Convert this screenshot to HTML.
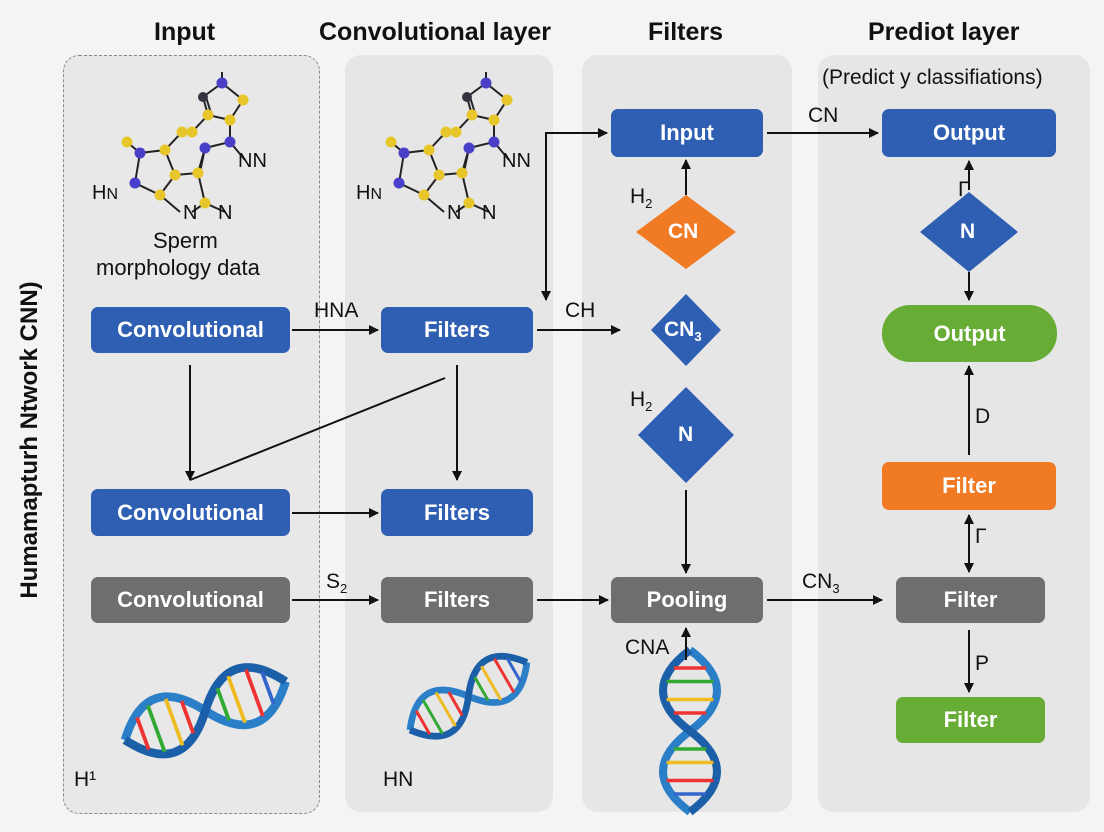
<!DOCTYPE html>
<html><head><meta charset="utf-8"><style>
body{margin:0;width:1104px;height:832px;background:#f4f4f4;font-family:"Liberation Sans",sans-serif;position:relative;overflow:hidden}
.col{position:absolute;background:#e6e6e6;border-radius:16px}
.b{position:absolute;color:#fff;font-weight:bold;font-size:22px;display:flex;align-items:center;justify-content:center;border-radius:7px}
.blue{background:#2f5fb3}.gray{background:#6e6e6e}.org{background:#f07b24}.grn{background:#67ad35}
.t{position:absolute;font-size:21px;color:#111;white-space:nowrap}
.h{position:absolute;font-size:25px;font-weight:bold;color:#111;white-space:nowrap}
</style></head><body>
<div class="col" style="left:63px;top:55px;width:255px;height:757px;border:1.5px dashed #888;background:#e8e8e8"></div>
<div class="col" style="left:345px;top:55px;width:208px;height:757px"></div>
<div class="col" style="left:582px;top:55px;width:210px;height:757px"></div>
<div class="col" style="left:818px;top:55px;width:272px;height:757px"></div>

<div class="h" style="left:154px;top:18px">Input</div>
<div class="h" style="left:319px;top:18px">Convolutional layer</div>
<div class="h" style="left:648px;top:18px">Filters</div>
<div class="h" style="left:868px;top:18px">Prediot layer</div>
<div class="t" style="left:822px;top:66px">(Predict y classifiations)</div>
<div class="h" style="left:30px;top:440px;transform:translate(-50%,-50%) rotate(-90deg);font-size:24px">Humamapturh Ntwork CNN)</div>

<svg width="1104" height="832" style="position:absolute;left:0;top:0">
<defs>
<marker id="a" markerWidth="10" markerHeight="10" refX="9" refY="5" orient="auto" markerUnits="userSpaceOnUse"><path d="M0,0L10,5L0,10z" fill="#111"/></marker>
<g id="mol" stroke="#222" stroke-width="2">
<path d="M222,72L222,83L203,97 M222,83L243,100L230,120L208,115L203,97 M211,113L206,97 M230,120L230,142L205,148 M208,115L192,132L182,132L165,150L140,153L127,142 M140,153L135,183L160,195L175,175L165,150 M175,175L198,173L205,148 M198,173L205,203L225,212 M205,203L192,212 M160,195L180,212 M230,142L245,160 M205,148L200,172" fill="none"/>
<g stroke="none">
<circle cx="222" cy="83" r="5.5" fill="#4a3fc8"/><circle cx="203" cy="97" r="5" fill="#334"/><circle cx="243" cy="100" r="5.5" fill="#e6c62b"/><circle cx="230" cy="120" r="5.5" fill="#e6c62b"/><circle cx="208" cy="115" r="5.5" fill="#e6c62b"/><circle cx="192" cy="132" r="5.5" fill="#e6c62b"/><circle cx="182" cy="132" r="5.5" fill="#e6c62b"/><circle cx="127" cy="142" r="5.5" fill="#e6c62b"/><circle cx="140" cy="153" r="5.5" fill="#4a3fc8"/><circle cx="165" cy="150" r="5.5" fill="#e6c62b"/><circle cx="205" cy="148" r="5.5" fill="#4a3fc8"/><circle cx="230" cy="142" r="5.5" fill="#4a3fc8"/><circle cx="175" cy="175" r="5.5" fill="#e6c62b"/><circle cx="198" cy="173" r="5.5" fill="#e6c62b"/><circle cx="135" cy="183" r="5.5" fill="#4a3fc8"/><circle cx="160" cy="195" r="5.5" fill="#e6c62b"/><circle cx="205" cy="203" r="5.5" fill="#e6c62b"/></g></g>
<g id="dna"><path d="M0,0 C30,-40 60,-40 90,0 S150,40 180,0" stroke="#2a7fc8" stroke-width="9" fill="none"/><path d="M0,0 C30,40 60,40 90,0 S150,-40 180,0" stroke="#1b5fa8" stroke-width="9" fill="none"/>
<g stroke-width="4"><line x1="20" y1="-18" x2="20" y2="18" stroke="#e33"/><line x1="35" y1="-26" x2="35" y2="26" stroke="#3a3"/><line x1="55" y1="-26" x2="55" y2="26" stroke="#eb2"/><line x1="70" y1="-18" x2="70" y2="18" stroke="#e33"/><line x1="110" y1="-18" x2="110" y2="18" stroke="#3a3"/><line x1="125" y1="-26" x2="125" y2="26" stroke="#eb2"/><line x1="145" y1="-26" x2="145" y2="26" stroke="#e33"/><line x1="160" y1="-18" x2="160" y2="18" stroke="#36c"/></g></g>
</defs>
<use href="#mol"/>
<use href="#mol" transform="translate(264,0)"/>
<use href="#dna" transform="translate(125,740) rotate(-20) scale(0.95)"/>
<use href="#dna" transform="translate(410,730) rotate(-30) scale(0.75)"/>
<use href="#dna" transform="translate(690,650) rotate(90) scale(0.9)"/>
<g stroke="#111" stroke-width="2" fill="none" marker-end="url(#a)">
<line x1="292" y1="330" x2="378" y2="330"/>
<line x1="537" y1="330" x2="620" y2="330"/>
<line x1="190" y1="365" x2="190" y2="480"/>
<line x1="457" y1="365" x2="457" y2="480"/>
<line x1="292" y1="513" x2="378" y2="513"/>
<line x1="292" y1="600" x2="378" y2="600"/>
<line x1="537" y1="600" x2="608" y2="600"/>
<line x1="767" y1="600" x2="882" y2="600"/>
<line x1="686" y1="490" x2="686" y2="573"/>
<line x1="686" y1="660" x2="686" y2="628"/>
<line x1="686" y1="195" x2="686" y2="160"/>
<polyline points="546,300 546,133 607,133"/>
<line x1="546" y1="133" x2="546" y2="300" marker-end="url(#a)"/>
<line x1="767" y1="133" x2="878" y2="133"/>
<line x1="969" y1="190" x2="969" y2="161"/>
<line x1="969" y1="272" x2="969" y2="300"/>
<line x1="969" y1="455" x2="969" y2="366"/>
<line x1="969" y1="560" x2="969" y2="515"/>
<line x1="969" y1="515" x2="969" y2="572"/>
<line x1="969" y1="630" x2="969" y2="692"/>
</g>
<line x1="445" y1="378" x2="190" y2="480" stroke="#111" stroke-width="2"/>
<polygon points="636,232 686,195 736,232 686,269" fill="#f07b24"/>
<polygon points="651,330 686,294 721,330 686,366" fill="#2f5fb3"/>
<polygon points="638,435 686,387 734,435 686,483" fill="#2f5fb3"/>
<polygon points="920,232 969,192 1018,232 969,272" fill="#2f5fb3"/>
</svg>

<div class="t" style="left:153px;top:228px;font-size:22px">Sperm</div>
<div class="t" style="left:96px;top:255px;font-size:22px">morphology data</div>
<div class="t" style="left:92px;top:182px;font-size:20px">H<span style="font-size:16px">N</span></div>
<div class="t" style="left:238px;top:150px;font-size:20px">NN</div>
<div class="t" style="left:183px;top:202px;font-size:20px">N</div>
<div class="t" style="left:218px;top:202px;font-size:20px">N</div>
<div class="t" style="left:356px;top:182px;font-size:20px">H<span style="font-size:16px">N</span></div>
<div class="t" style="left:502px;top:150px;font-size:20px">NN</div>
<div class="t" style="left:447px;top:202px;font-size:20px">N</div>
<div class="t" style="left:482px;top:202px;font-size:20px">N</div>

<div class="b blue" style="left:91px;top:307px;width:199px;height:46px">Convolutional</div>
<div class="b blue" style="left:381px;top:307px;width:152px;height:46px">Filters</div>
<div class="b blue" style="left:91px;top:489px;width:199px;height:47px">Convolutional</div>
<div class="b blue" style="left:381px;top:489px;width:152px;height:47px">Filters</div>
<div class="b gray" style="left:91px;top:577px;width:199px;height:46px">Convolutional</div>
<div class="b gray" style="left:381px;top:577px;width:152px;height:46px">Filters</div>
<div class="b blue" style="left:611px;top:109px;width:152px;height:48px">Input</div>
<div class="b gray" style="left:611px;top:577px;width:152px;height:46px">Pooling</div>
<div class="b blue" style="left:882px;top:109px;width:174px;height:48px">Output</div>
<div class="b grn" style="left:882px;top:305px;width:175px;height:57px;border-radius:28px">Output</div>
<div class="b org" style="left:882px;top:462px;width:174px;height:48px">Filter</div>
<div class="b gray" style="left:896px;top:577px;width:149px;height:46px">Filter</div>
<div class="b grn" style="left:896px;top:697px;width:149px;height:46px">Filter</div>

<div class="t" style="left:668px;top:220px;color:#fff;font-weight:bold">CN</div>
<div class="t" style="left:664px;top:318px;color:#fff;font-weight:bold">CN<sub style="font-size:13px">3</sub></div>
<div class="t" style="left:678px;top:423px;color:#fff;font-weight:bold">N</div>
<div class="t" style="left:960px;top:220px;color:#fff;font-weight:bold">N</div>

<div class="t" style="left:314px;top:299px">HNA</div>
<div class="t" style="left:565px;top:299px">CH</div>
<div class="t" style="left:630px;top:185px">H<sub style="font-size:13px">2</sub></div>
<div class="t" style="left:630px;top:388px">H<sub style="font-size:13px">2</sub></div>
<div class="t" style="left:808px;top:104px">CN</div>
<div class="t" style="left:958px;top:178px">Γ</div>
<div class="t" style="left:975px;top:405px">D</div>
<div class="t" style="left:975px;top:525px">Γ</div>
<div class="t" style="left:975px;top:652px">P</div>
<div class="t" style="left:326px;top:570px">S<sub style="font-size:13px">2</sub></div>
<div class="t" style="left:802px;top:570px">CN<sub style="font-size:13px">3</sub></div>
<div class="t" style="left:625px;top:636px">CNA</div>
<div class="t" style="left:74px;top:768px">H¹</div>
<div class="t" style="left:383px;top:768px">HN</div>
</body></html>
